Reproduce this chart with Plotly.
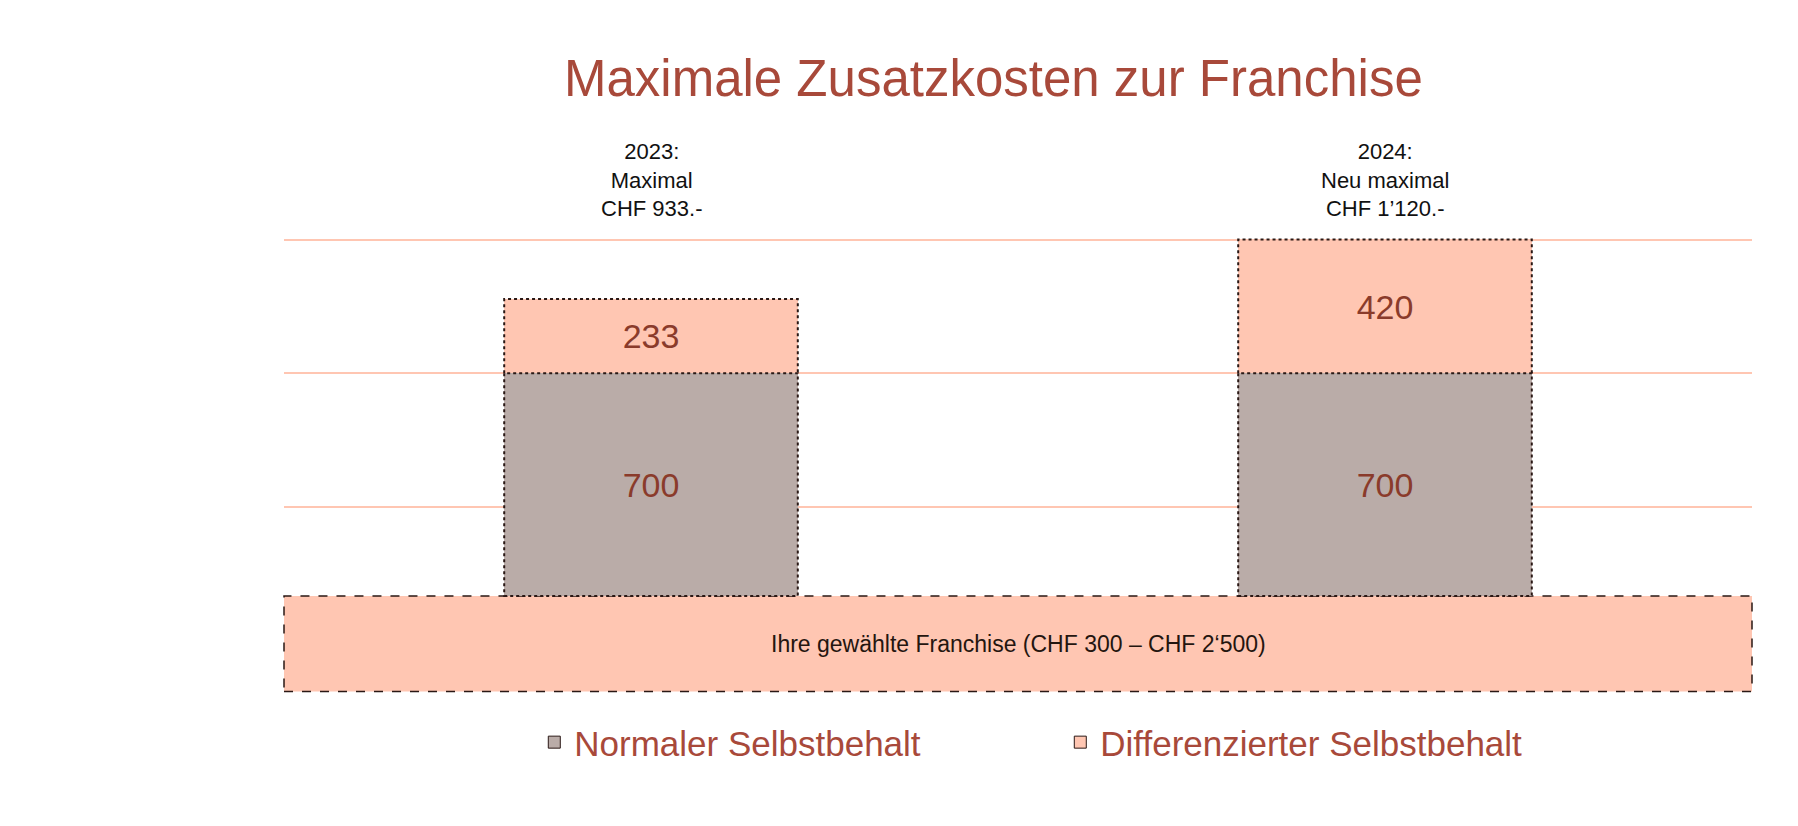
import plotly.graph_objects as go

# ---- data ----
years = ["2023", "2024"]
x_pos = [0, 1]
normal_values = [700, 700]
diff_values = [233, 420]
header_line1 = ["2023:", "2024:"]
header_line2 = ["Maximal", "Neu maximal"]
franchise_band = [-300, 0]
grid_values = [280, 700, 1120]
series_names = ["Normaler Selbstbehalt", "Differenzierter Selbstbehalt"]
franchise_label = "Ihre gewählte Franchise (CHF 300 – CHF 2‘500)"
title_text = "Maximale Zusatzkosten zur Franchise"

# ---- style ----
FONT = "Liberation Sans, Arial, sans-serif"
C_NORMAL = "#BAACA8"
C_DIFF = "#FFC6B2"
C_GRID = "#FFC6B2"
C_TEXT_BROWN = "#8A3B2B"
C_TITLE = "#A8493A"
C_EDGE = "#2A1815"
BAR_W = 0.4


def chf(v):
    s = f"{v:,}".replace(",", "’")
    return f"CHF {s}.-"


fig = go.Figure()
for vals, name, col in [(normal_values, series_names[0], C_NORMAL),
                        (diff_values, series_names[1], C_DIFF)]:
    fig.add_trace(go.Bar(
        x=x_pos, y=vals, name=name, width=BAR_W, showlegend=False,
        marker=dict(color=col, line=dict(width=0)),
        text=vals, textposition="inside", insidetextanchor="middle",
        textfont=dict(size=34, color=C_TEXT_BROWN, family=FONT),
        constraintext="none", hoverinfo="skip",
    ))
# legend entries (with dark border like the reference swatches)
for name, col in [(series_names[0], C_NORMAL), (series_names[1], C_DIFF)]:
    fig.add_trace(go.Bar(
        x=[None], y=[None], name=name, showlegend=True,
        marker=dict(color=col, line=dict(color=C_EDGE, width=1)),
        hoverinfo="skip",
    ))

shapes = []
# franchise band
shapes.append(dict(type="rect", xref="paper", yref="y", x0=0, x1=1,
                   y0=franchise_band[0], y1=franchise_band[1],
                   fillcolor=C_DIFF, line=dict(color=C_EDGE, width=1.5, dash="dash"),
                   layer="below"))
# dotted outlines for bars
dot = dict(color=C_EDGE, width=2, dash="dot")
for xi, n, d in zip(x_pos, normal_values, diff_values):
    xa, xb = xi - BAR_W / 2, xi + BAR_W / 2
    shapes.append(dict(type="rect", xref="x", yref="y", x0=xa, x1=xb,
                       y0=0, y1=n, line=dot, layer="above"))
    shapes.append(dict(type="path", xref="x", yref="y",
                       path=f"M {xa},{n} L {xa},{n + d} L {xb},{n + d} L {xb},{n}",
                       line=dot, layer="above"))

annotations = []
for xi, l1, l2, n, d in zip(x_pos, header_line1, header_line2, normal_values, diff_values):
    annotations.append(dict(x=xi, xref="x", y=1.1072, yref="paper",
                            text=f"{l1}<br>{l2}<br>{chf(n + d)}", showarrow=False,
                            font=dict(size=22, color="#111111", family=FONT),
                            xanchor="center", yanchor="middle", align="center"))
annotations.append(dict(x=0.5, xref="paper", y=(franchise_band[0] + franchise_band[1]) / 2, yref="y",
                        text=franchise_label, showarrow=False,
                        font=dict(size=23, color="#24150F", family=FONT),
                        xanchor="center", yanchor="middle"))

fig.update_layout(
    width=1798, height=826,
    margin=dict(l=284, r=46, t=229.5, b=124.5, pad=0),
    paper_bgcolor="white", plot_bgcolor="white",
    barmode="stack", bargap=0,
    font=dict(family=FONT),
    title=dict(text=title_text, x=0.5525, xref="container", xanchor="center",
               y=1 - 78 / 826, yref="container", yanchor="middle",
               font=dict(size=51, color=C_TITLE, family=FONT)),
    xaxis=dict(range=[-0.5, 1.5], showticklabels=False, showgrid=False, zeroline=False,
               showline=False, ticks=""),
    yaxis=dict(range=[-330, 1150], tickvals=grid_values, showticklabels=False,
               showgrid=True, gridcolor=C_GRID, gridwidth=2, zeroline=False,
               showline=False, ticks=""),
    shapes=shapes, annotations=annotations,
    showlegend=True,
    legend=dict(orientation="h", x=0.1705, xanchor="left", y=-0.0879, yanchor="middle",
                traceorder="normal", entrywidth=481, entrywidthmode="pixels",
                font=dict(size=35, color=C_TITLE, family=FONT), bgcolor="rgba(0,0,0,0)"),
    hovermode=False,
)

fig.write_html("out.html")
